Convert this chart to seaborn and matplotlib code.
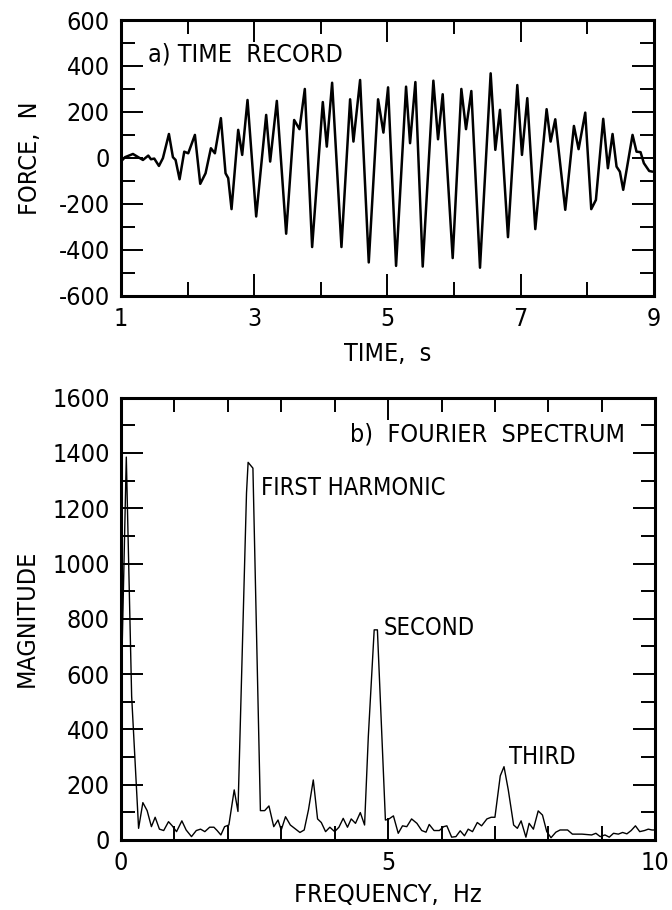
import pandas as pd
import matplotlib.pyplot as plt
import seaborn as sns
from matplotlib.ticker import MultipleLocator

# a) time record (s, N)
time_s = [1.00, 1.06, 1.18, 1.26, 1.33, 1.41, 1.45, 1.50, 1.57, 1.63, 1.72, 1.78, 1.82, 1.88,
          1.95, 2.01, 2.11, 2.19, 2.27, 2.35, 2.41, 2.50, 2.57, 2.61, 2.66, 2.76, 2.82, 2.90,
          3.03, 3.18, 3.24, 3.34, 3.48, 3.60, 3.68, 3.76, 3.87, 4.03, 4.09, 4.17, 4.31, 4.44,
          4.49, 4.59, 4.72, 4.86, 4.94, 5.01, 5.13, 5.28, 5.34, 5.42, 5.53, 5.69, 5.76, 5.83,
          5.98, 6.11, 6.18, 6.26, 6.39, 6.55, 6.62, 6.69, 6.81, 6.95, 7.02, 7.10, 7.22, 7.39,
          7.45, 7.52, 7.67, 7.80, 7.87, 7.97, 8.06, 8.13, 8.24, 8.31, 8.38, 8.44, 8.49, 8.54,
          8.68, 8.74, 8.80, 8.85, 8.93, 8.98]
force_n = [-16, 3, 17, 3, -9, 10, -6, -3, -35, -1, 104, 3, -9, -93,
           27, 20, 100, -113, -67, 42, 20, 173, -67, -88, -223, 122, 13, 252,
           -255, 187, -16, 248, -330, 165, 125, 300, -388, 243, 49, 327, -388, 255,
           71, 339, -455, 255, 110, 307, -470, 310, 64, 330, -473, 336, 81, 277,
           -436, 300, 125, 291, -478, 368, 35, 209, -345, 317, 13, 260, -310, 212,
           71, 168, -226, 139, 38, 197, -223, -183, 170, -45, 104, -38, -60, -139,
           100, 27, 25, -23, -57, -60]

# b) Fourier spectrum (Hz, magnitude)
freq_hz = [0.00, 0.10, 0.20, 0.33, 0.41, 0.49, 0.57, 0.64, 0.72, 0.80, 0.89, 0.96, 1.04, 1.14,
           1.22, 1.32, 1.41, 1.49, 1.57, 1.66, 1.74, 1.80, 1.87, 1.94, 2.02, 2.12, 2.19, 2.35,
           2.38, 2.47, 2.61, 2.69, 2.77, 2.86, 2.94, 3.00, 3.08, 3.17, 3.25, 3.35, 3.43, 3.51,
           3.60, 3.68, 3.75, 3.83, 3.91, 4.00, 4.08, 4.16, 4.24, 4.31, 4.39, 4.48, 4.56, 4.63,
           4.74, 4.80, 4.95, 5.01, 5.10, 5.19, 5.27, 5.35, 5.44, 5.54, 5.63, 5.71, 5.77, 5.86,
           5.96, 6.04, 6.10, 6.19, 6.27, 6.35, 6.43, 6.50, 6.58, 6.67, 6.75, 6.85, 6.93, 7.00,
           7.10, 7.17, 7.25, 7.35, 7.42, 7.49, 7.58, 7.64, 7.72, 7.81, 7.89, 7.97, 8.05, 8.14,
           8.22, 8.36, 8.45, 8.63, 8.81, 8.89, 8.97, 9.06, 9.14, 9.22, 9.31, 9.39, 9.47, 9.55,
           9.63, 9.71, 9.80, 9.87, 9.94, 10.00]
magnitude = [500, 1385, 520, 42, 135, 106, 48, 82, 39, 34, 66, 51, 30, 69,
             36, 12, 34, 39, 30, 46, 46, 34, 18, 48, 54, 181, 103, 1255,
             1366, 1345, 106, 106, 123, 48, 72, 36, 84, 54, 42, 27, 36, 109,
             217, 76, 63, 30, 46, 30, 46, 78, 46, 76, 60, 99, 54, 374,
             760, 760, 72, 75, 87, 24, 51, 48, 76, 60, 34, 28, 56, 34,
             34, 48, 51, 10, 12, 33, 15, 39, 30, 63, 51, 76, 82, 82,
             232, 265, 181, 54, 42, 69, 10, 60, 39, 105, 90, 30, 8, 28,
             36, 36, 21, 21, 18, 24, 12, 18, 10, 24, 21, 27, 22, 34,
             51, 30, 34, 39, 36, 36]

time_ticks = [1, 3, 5, 7, 9]
force_ticks = [-600, -400, -200, 0, 200, 400, 600]
force_labels = ['-600', '-400', '-200', '0', '200', '400', '600']
freq_ticks = [0, 5, 10]
mag_ticks = [0, 200, 400, 600, 800, 1000, 1200, 1400, 1600]

sns.set_style('ticks')
plt.rcParams['font.family'] = ['DejaVu Sans']
plt.rcParams['font.stretch'] = 'condensed'
plt.rcParams['text.color'] = 'black'
plt.rcParams['axes.labelcolor'] = 'black'
plt.rcParams['xtick.color'] = 'black'
plt.rcParams['ytick.color'] = 'black'

fig = plt.figure(figsize=(6.72, 9.10), dpi=100)
ax1 = fig.add_axes([0.180, 0.675, 0.793, 0.303])
ax2 = fig.add_axes([0.180, 0.077, 0.795, 0.486])

df_t = pd.DataFrame({'time': time_s, 'force': force_n})
df_f = pd.DataFrame({'freq': freq_hz, 'mag': magnitude})

sns.lineplot(data=df_t, x='time', y='force', ax=ax1, color='black', linewidth=1.8)
sns.lineplot(data=df_f, x='freq', y='mag', ax=ax2, color='black', linewidth=1.0)
for ln in ax1.lines + ax2.lines:
    ln.set_solid_joinstyle('round')

ax1.set_xlim(1, 9)
ax1.set_ylim(-600, 600)
ax1.set_xticks(time_ticks)
ax1.set_yticks(force_ticks)
ax1.set_yticklabels(force_labels)
ax1.xaxis.set_minor_locator(MultipleLocator(1))
ax1.yaxis.set_minor_locator(MultipleLocator(100))
ax1.set_xlabel('TIME,  s', fontsize=18, labelpad=8)
ax1.set_ylabel('FORCE,  N', fontsize=18, labelpad=12)
ax1.text(1.40, 451, 'a) TIME  RECORD', fontsize=18, va='center', ha='left')

ax2.set_xlim(0, 10)
ax2.set_ylim(0, 1600)
ax2.set_xticks(freq_ticks)
ax2.set_yticks(mag_ticks)
ax2.xaxis.set_minor_locator(MultipleLocator(1))
ax2.yaxis.set_minor_locator(MultipleLocator(100))
ax2.set_xlabel('FREQUENCY,  Hz', fontsize=18, labelpad=6)
ax2.set_ylabel('MAGNITUDE', fontsize=18, labelpad=10)
ax2.text(4.29, 1466, 'b)  FOURIER  SPECTRUM', fontsize=18, va='center', ha='left')
ax2.text(2.63, 1274, 'FIRST HARMONIC', fontsize=17, va='center', ha='left')
ax2.text(4.91, 766, 'SECOND', fontsize=17, va='center', ha='left')
ax2.text(7.27, 299, 'THIRD', fontsize=17, va='center', ha='left')

for ax in (ax1, ax2):
    for s in ax.spines.values():
        s.set_visible(True)
        s.set_linewidth(2.2)
        s.set_color('black')
    ax.tick_params(which='major', direction='in', length=16, width=1.4,
                   top=True, right=True, labelsize=18, pad=8, colors='black')
    ax.tick_params(which='minor', direction='in', length=10, width=1.4,
                   top=True, right=True)
    ax.grid(False)

fig.savefig('out.png', dpi=100, facecolor='white')
